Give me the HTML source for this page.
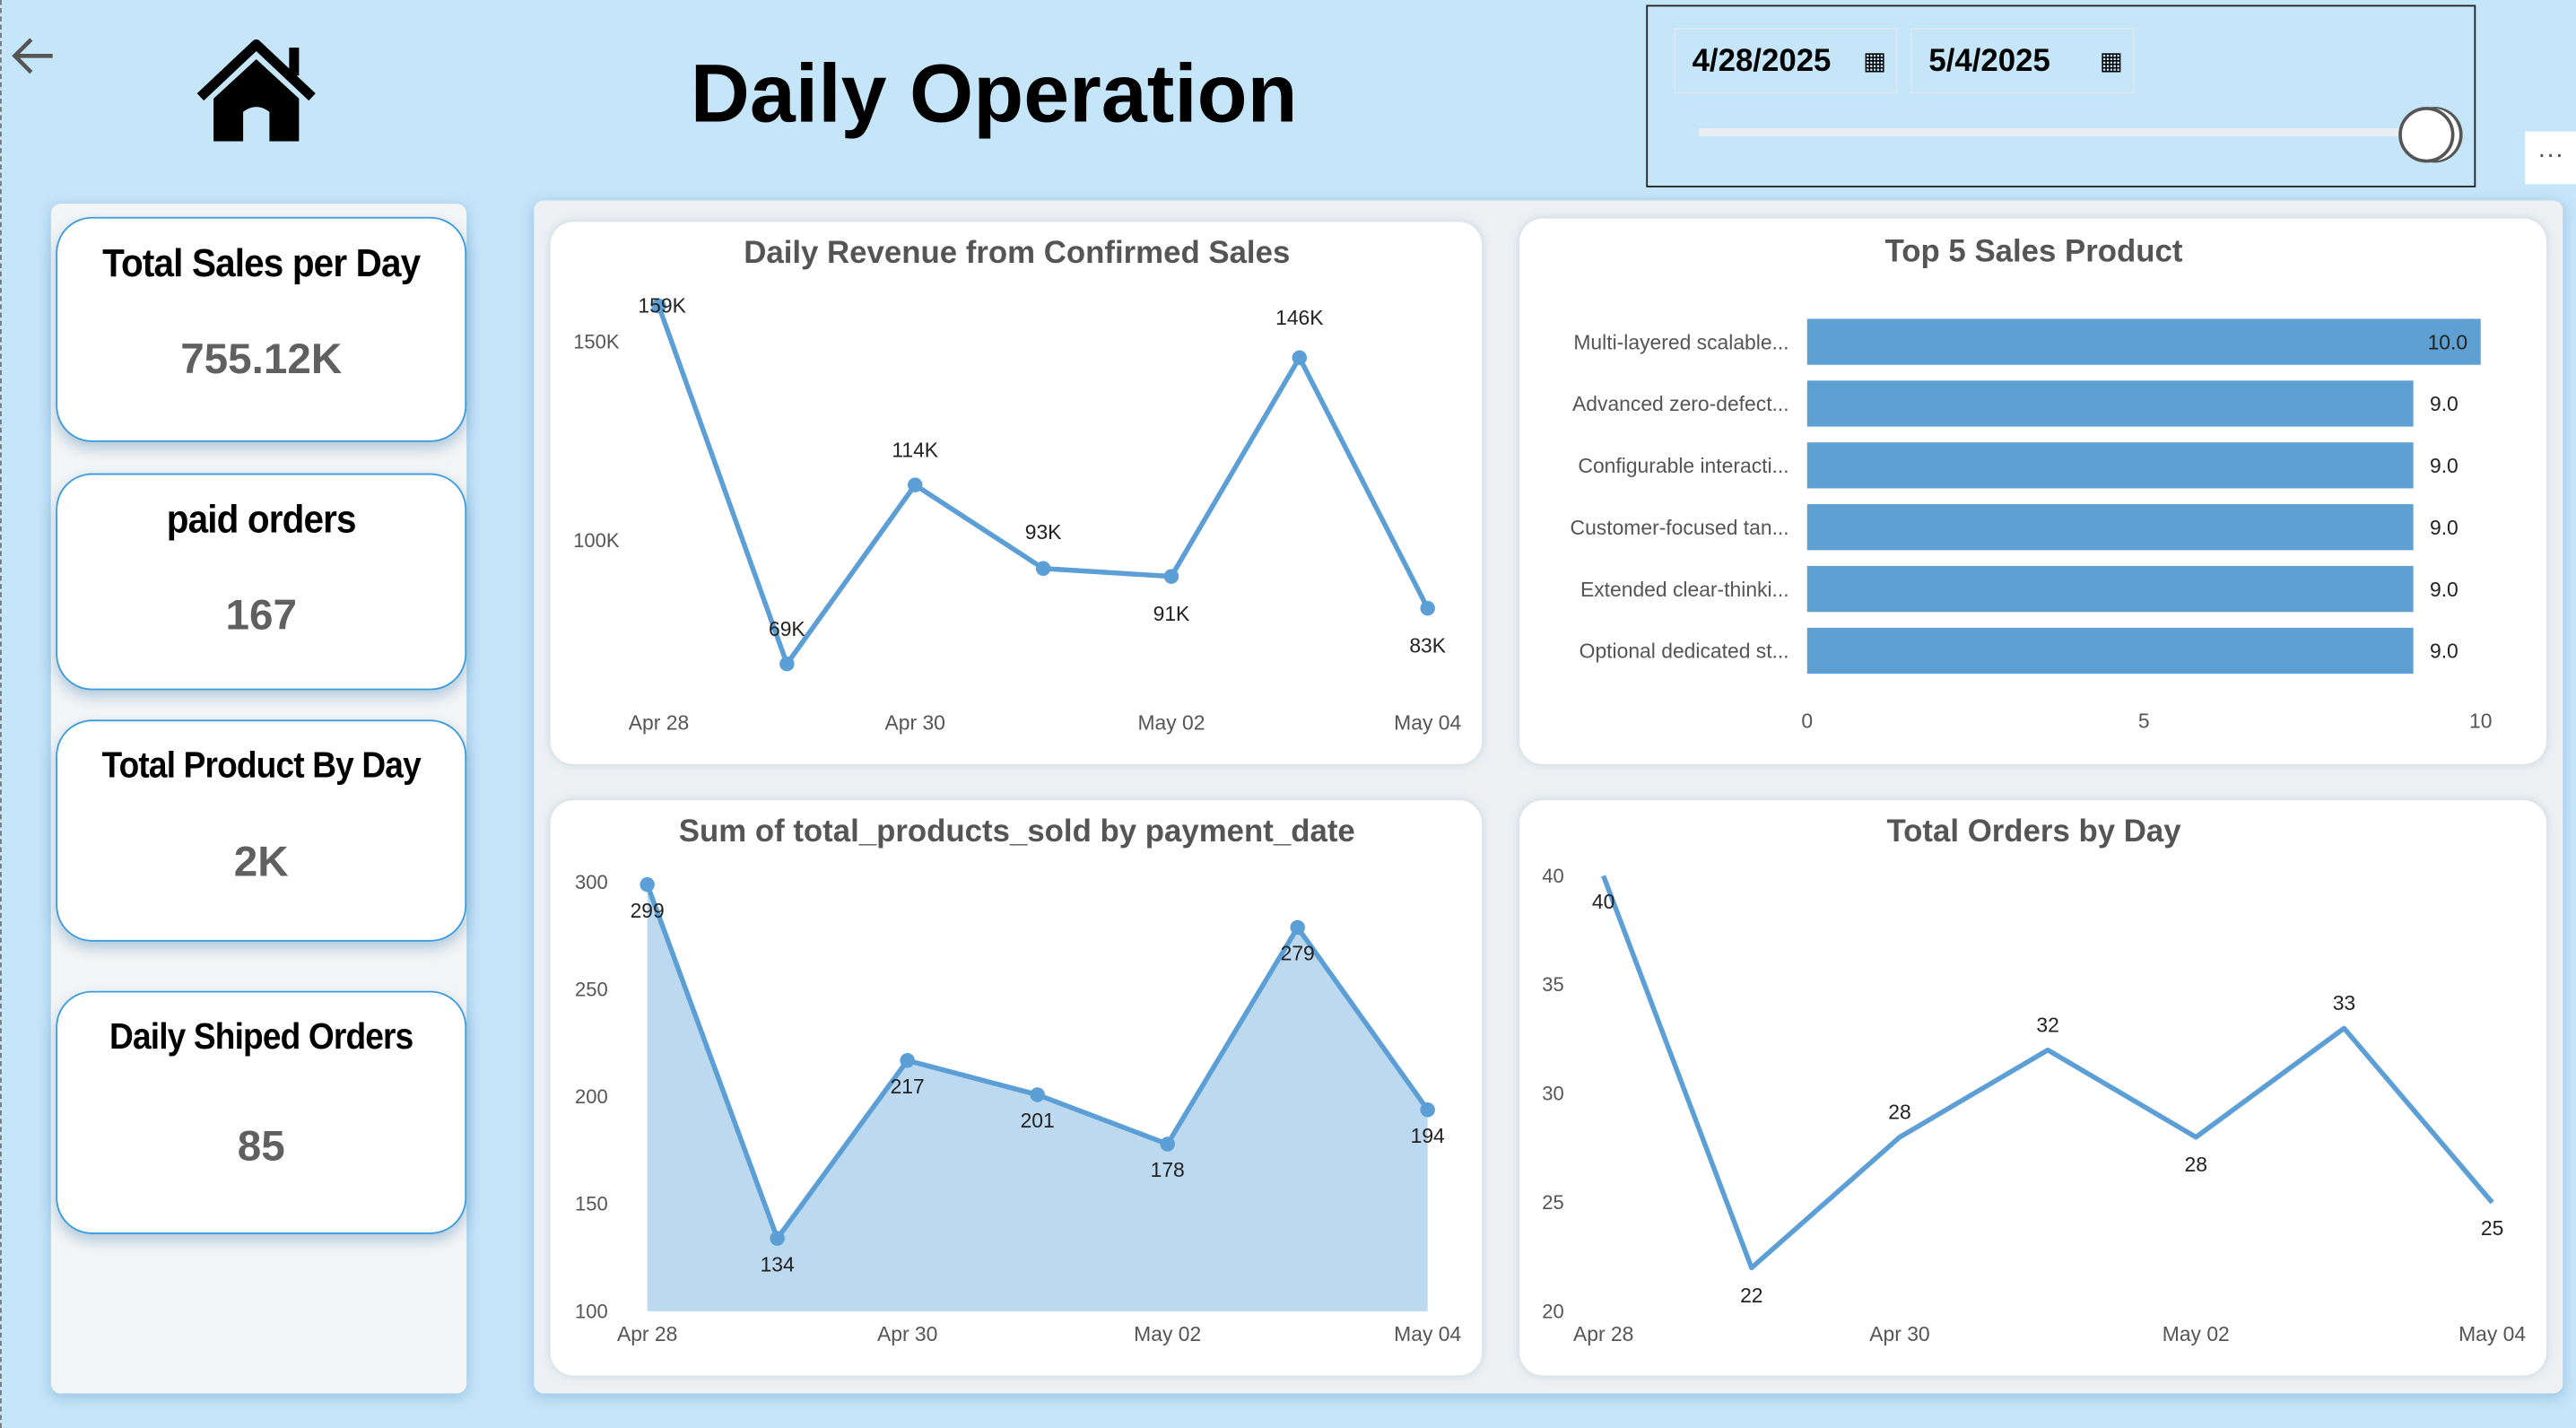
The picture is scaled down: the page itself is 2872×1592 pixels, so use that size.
<!DOCTYPE html>
<html><head><meta charset="utf-8">
<style>
html,body{margin:0;padding:0;width:2872px;height:1592px;overflow:hidden;background:#c5e5f8;}
#root{position:absolute;left:0;top:0;width:1568px;height:869px;transform:scale(1.83163,1.83199);transform-origin:0 0;font-family:"Liberation Sans","DejaVu Sans",sans-serif;}
.abs{position:absolute;}
.kpi{position:absolute;left:34px;width:248px;background:#fff;border:1.5px solid #3a9be0;border-radius:22px;box-shadow:0 4px 8px rgba(60,120,170,.35);text-align:center;}
.kpi .t{font-weight:bold;font-size:24px;color:#000;margin-top:14px;letter-spacing:-0.5px;transform:scaleX(0.92);white-space:nowrap;}
.kpi .v{font-weight:bold;font-size:26px;color:#606060;}
.card{position:absolute;background:#fff;border-radius:14px;box-shadow:0 0 6px rgba(120,160,190,.35);}
svg text{font-family:"Liberation Sans","DejaVu Sans",sans-serif;}
</style></head>
<body>
<div id="root">
  <div class="abs" style="left:0;top:0;width:1px;height:869px;border-left:1px dashed #777;"></div>
  <svg class="abs" style="left:4px;top:20px" width="32" height="30"><path d="M28 14 H5 M15 4 L5 14 L15 24" stroke="#555" stroke-width="2.5" fill="none"/></svg>
  <svg class="abs" style="left:118px;top:24px" width="80" height="64" viewBox="0 0 80 64">
    <path d="M4 35 L38 3 L72 35" stroke="#000" stroke-width="6" fill="none" stroke-linejoin="round"/>
    <rect x="58" y="5" width="6" height="17" fill="#000"/>
    <path d="M12 36 L38 12 L64 36 V62 H46 V44 Q38 38 30 44 V62 H12 Z" fill="#000"/>
  </svg>
  <div class="abs" style="left:380px;top:28px;width:450px;text-align:center;font-weight:bold;font-size:50px;color:#000;">Daily Operation</div>

  <div class="abs" style="left:1002px;top:3px;width:505px;height:111px;border:1.5px solid #222;box-sizing:border-box;"></div>
  <div class="abs" style="left:1019px;top:17px;width:136px;height:40px;border:1px solid #dde8ee;box-sizing:border-box;font-weight:bold;font-size:19px;line-height:40px;padding-left:10px;">4/28/2025<span style="position:absolute;left:114px;top:0;font-size:15px;">▦</span></div>
  <div class="abs" style="left:1163px;top:17px;width:136px;height:40px;border:1px solid #dde8ee;box-sizing:border-box;font-weight:bold;font-size:19px;line-height:40px;padding-left:10px;">5/4/2025<span style="position:absolute;left:114px;top:0;font-size:15px;">▦</span></div>
  <div class="abs" style="left:1034px;top:78px;width:440px;height:5px;background:#e8eef2;"></div>
  <div class="abs" style="left:1460px;top:65px;width:30px;height:30px;border-radius:50%;background:#fff;border:2.5px solid #555;box-shadow:4px 0 0 -1px #fff,5px 0 0 0 #555;"></div>
  <div class="abs" style="left:1537px;top:80px;width:31px;height:32px;background:#fff;text-align:center;font-size:16px;color:#555;line-height:30px;">···</div>

  <div class="abs" style="left:31px;top:124px;width:253px;height:724px;background:#f3f5f6;border-radius:6px;box-shadow:0 2px 8px rgba(80,140,190,.4);"></div>
  <div class="kpi" style="top:132px;height:135px;"><div class="t">Total Sales per Day</div><div class="v" style="margin-top:28px">755.12K</div></div>
  <div class="kpi" style="top:288px;height:130px;"><div class="t">paid orders</div><div class="v" style="margin-top:28px">167</div></div>
  <div class="kpi" style="top:438px;height:133px;"><div class="t" style="font-size:22px">Total Product By Day</div><div class="v" style="margin-top:30px">2K</div></div>
  <div class="kpi" style="top:603px;height:146px;"><div class="t" style="font-size:22px">Daily Shiped Orders</div><div class="v" style="margin-top:38px">85</div></div>

  <div class="abs" style="left:325px;top:122px;width:1235px;height:726px;background:#eef1f3;border-radius:6px;box-shadow:0 2px 8px rgba(80,140,190,.4);"></div>
  <div class="card" style="left:335px;top:135px;width:567px;height:330px;"></div>
  <div class="card" style="left:925px;top:133px;width:625px;height:332px;"></div>
  <div class="card" style="left:335px;top:487px;width:567px;height:350px;"></div>
  <div class="card" style="left:925px;top:487px;width:625px;height:350px;"></div>

  <svg id="charts" class="abs" style="left:0;top:0" width="1568" height="869"></svg>
</div>
<script>
// ---- data ----
const dates = ["Apr 28","Apr 29","Apr 30","May 01","May 02","May 03","May 04"];
const dateTicks = ["Apr 28","Apr 30","May 02","May 04"];
const revenue = [159,69,114,93,91,146,83];
const revenueLabels = ["159K","69K","114K","93K","91K","146K","83K"];
const revenueTicks = [100,150];
const products = ["Multi-layered scalable...","Advanced zero-defect...","Configurable interacti...","Customer-focused tan...","Extended clear-thinki...","Optional dedicated st..."];
const productSales = [10,9,9,9,9,9];
const productTicks = [0,5,10];
const productsSold = [299,134,217,201,178,279,194];
const soldTicks = [100,150,200,250,300];
const orders = [40,22,28,32,28,33,25];
const orderTicks = [20,25,30,35,40];

const NS="http://www.w3.org/2000/svg";
const svg=document.getElementById('charts');
const BLUE="#5b9fd6";
function mk(tag,attrs,parent){const e=document.createElementNS(NS,tag);for(const k in attrs)e.setAttribute(k,attrs[k]);(parent||svg).appendChild(e);return e;}
function txt(x,y,s,size,fill,anchor,weight){const t=mk('text',{x:x,y:y,'font-size':size,fill:fill,'text-anchor':anchor||'middle','font-weight':weight||'normal'});t.textContent=s;return t;}

function lineChart(o){
  const g=mk('g',{});
  
  
  const n=o.values.length;
  const xs=i=>o.x0+(o.x1-o.x0)*i/(n-1);
  const ys=v=>o.yb+(o.yt-o.yb)*(v-o.vmin)/(o.vmax-o.vmin);
  const t=txt(o.tx,o.ty,o.title,19,'#555','middle','bold');g.appendChild(t);
  
  
  o.yticks.forEach(v=>{const e=txt(o.ylx,ys(v)+4,o.yfmt(v),12,'#555','end');g.appendChild(e);
    
    });
  dateTicks.forEach(d=>{const i=dates.indexOf(d);const e=txt(xs(i),o.xly,d,12.5,'#555');g.appendChild(e);
    
    });
  const pts=o.values.map((v,i)=>[xs(i),ys(v)]);
  if(o.area){const a=mk('path',{d:'M'+pts.map(p=>p.join(',')).join(' L')+` L${xs(n-1)},${o.yb} L${xs(0)},${o.yb} Z`,fill:'#bcd9ef'},g);
    
    }
  const l=mk('polyline',{points:pts.map(p=>p.join(',')).join(' '),fill:'none',stroke:BLUE,'stroke-width':3,'stroke-linejoin':'round'},g);
  
  
  pts.forEach((p,i)=>{
    if(o.markers){const c=mk('circle',{cx:p[0],cy:p[1],r:4.5,fill:BLUE},g);
      
      }
    const off=o.offs[i];
    const e=txt(p[0]+off[0],p[1]+off[1],o.labels[i],12.5,'#222');g.appendChild(e);
    
    
  });
}
lineChart({name:'revenue-chart',title:'Daily Revenue from Confirmed Sales',tx:619,ty:160,values:revenue,labels:revenueLabels,
  x0:401,x1:869,yb:329,yt:208,vmin:100,vmax:150,yticks:revenueTicks,yfmt:v=>v+'K',ylx:377,xly:444,markers:true,
  offs:[[2,4],[0,-17],[0,-17],[0,-18],[0,27],[0,-20],[0,27]]});
lineChart({name:'products-sold-chart',title:'Sum of total_products_sold by payment_date',tx:619,ty:512,values:productsSold,labels:productsSold.map(String),
  x0:394,x1:869,yb:798,yt:537,vmin:100,vmax:300,yticks:soldTicks,yfmt:v=>String(v),ylx:370,xly:816,markers:true,area:true,
  offs:[[0,20],[0,20],[0,20],[0,20],[0,20],[0,20],[0,20]]});
lineChart({name:'orders-chart',title:'Total Orders by Day',tx:1238,ty:512,values:orders,labels:orders.map(String),
  x0:976,x1:1517,yb:798,yt:533,vmin:20,vmax:40,yticks:orderTicks,yfmt:v=>String(v),ylx:952,xly:816,markers:false,
  offs:[[0,20],[0,21],[0,-11],[0,-11],[0,21],[0,-11],[0,20]]});

// bar chart
(function(){
  const g=mk('g',{});
  
  
  const x0=1100,x1=1510,vmax=10,rowTop=208,rowStep=37.6,bh=28;
  const xs=v=>x0+(x1-x0)*v/vmax;
  const t=txt(1238,159,'Top 5 Sales Product',19,'#555','middle','bold');g.appendChild(t);
  
  
  products.forEach((p,i)=>{
    const cy=rowTop+i*rowStep;
    const r=mk('rect',{x:x0,y:cy-bh/2,width:xs(productSales[i])-x0,height:bh,fill:'#5fa0d3'},g);
    
    
    const lab=txt(1089,cy+4.5,p,12.5,'#555','end');g.appendChild(lab);
    
    
    const val=productSales[i].toFixed(1);
    const inside=productSales[i]>=vmax*0.95;
    const vl=txt(inside?xs(productSales[i])-8:xs(productSales[i])+10,cy+4.5,val,12.5,'#222',inside?'end':'start');g.appendChild(vl);
    
    
  });
  productTicks.forEach(v=>{const e=txt(xs(v),443,String(v),12.5,'#555');g.appendChild(e);
    
    });
})();
</script>
</body></html>
